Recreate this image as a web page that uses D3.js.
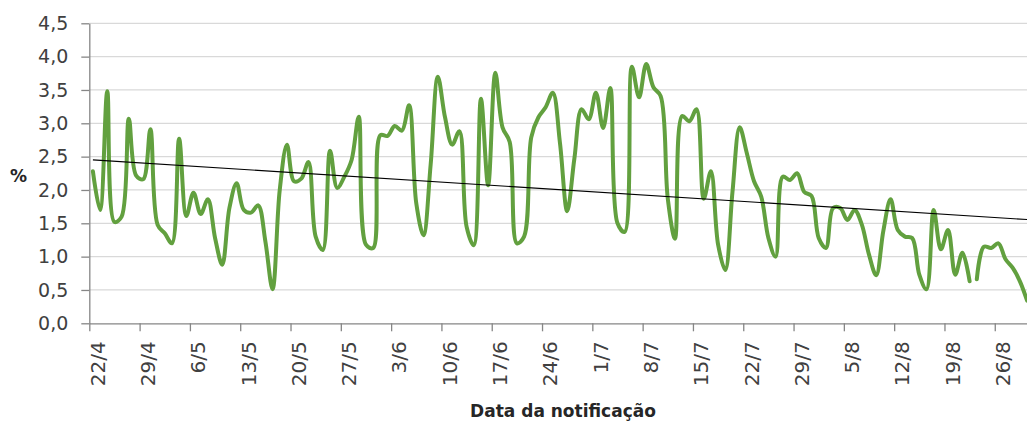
<!DOCTYPE html>
<html>
<head>
<meta charset="utf-8">
<script src="https://cdn.jsdelivr.net/npm/d3@7"></script>
<style>
  body { margin: 0; background: #fff; }
  svg { display: block; }
  .tick-label { font-family: "DejaVu Sans", sans-serif; fill: #404040; }
  .axis-title { font-family: "DejaVu Sans", sans-serif; font-weight: bold; fill: #262626; }
</style>
</head>
<body>
<svg id="chart" width="1027" height="421"></svg>
<script>
// first notification date, one value per day after it
var startDate = "2020-04-22";
// % per day
var values = [
  2.28, 1.70, 3.48, 1.52, 1.60, 3.07, 2.22, 2.16, 2.91, 1.48,
  1.35, 1.20, 2.77, 1.61, 1.96, 1.64, 1.86, 1.28, 0.88, 1.73,
  2.10, 1.70, 1.66, 1.77, 1.23, 0.51, 2.00, 2.68, 2.13, 2.17,
  2.42, 1.30, 1.10, 2.59, 2.03, 2.20, 2.45, 3.10, 1.18, 1.13,
  2.82, 2.81, 2.96, 2.89, 3.27, 1.80, 1.32, 2.38, 3.70, 3.09,
  2.68, 2.88, 1.45, 1.17, 3.37, 2.07, 3.76, 2.94, 2.72, 1.20,
  1.30, 2.79, 3.09, 3.24, 3.46, 2.70, 1.68, 2.47, 3.21, 3.06,
  3.46, 2.93, 3.53, 1.50, 1.37, 3.85, 3.39, 3.89, 3.54, 3.41,
  1.87, 1.27, 3.11, 3.03, 3.21, 1.87, 2.28, 1.18, 0.80, 1.97,
  2.94, 2.55, 2.13, 1.90, 1.28, 1.00, 2.20, 2.15, 2.25, 1.97,
  1.91, 1.28, 1.13, 1.73, 1.73, 1.55, 1.70, 1.48, 1.03, 0.72,
  1.39, 1.86, 1.40, 1.30, 1.28, 0.73, 0.51, 1.70, 1.11, 1.40,
  0.73, 1.06, 0.63, 0.66, 1.15, 1.13, 1.20, 0.96, 0.83, 0.63,
  0.34
];
// the line is interrupted right after this day
var breakAfter = "22/8";
var yTicks = [0, 0.5, 1, 1.5, 2, 2.5, 3, 3.5, 4, 4.5];
var tickEvery = 7; // days between x labels

var fmtDay = d3.timeFormat("%-d/%-m");
var start = d3.timeParse("%Y-%m-%d")(startDate);
var days = values.map(function(v, i){ return d3.timeDay.offset(start, i); });
var series = values.map(function(v, i){ return {date: days[i], value: v, idx: i}; });

var plotL = 89.3, plotR = 1030.7, plotT = 23.3, plotB = 323.3;

var svg = d3.select("#chart");

var x = d3.scaleTime()
  .domain([start, d3.timeDay.offset(start, values.length)])
  .range([plotL, plotR]);
var y = d3.scaleLinear().domain([0, 4.5]).range([plotB, plotT]);

// point sits in the middle of its day
var px = function(d){ return x(d3.timeHour.offset(d.date, 12)); };

//gridlines
svg.append("g").selectAll("line")
  .data(yTicks.filter(function(t){ return t > 0; }))
  .enter()
  .append("line")
  .attr("x1", plotL).attr("x2", plotR)
  .attr("y1", function(d){ return y(d); })
  .attr("y2", function(d){ return y(d); })
  .attr("stroke", "#d9d9d9")
  .attr("stroke-width", 1.3);

//y axis
var yAxis = svg.append("g")
  .attr("transform", "translate(" + plotL + ",0)")
  .call(d3.axisLeft(y)
    .tickValues(yTicks)
    .tickSize(8)
    .tickSizeOuter(0)
    .tickPadding(13)
    .tickFormat(function(d){ return d3.format(".1f")(d).replace(".", ","); }));
yAxis.select(".domain").attr("stroke", "#868686").attr("stroke-width", 1.3);
yAxis.selectAll(".tick line").attr("stroke", "#868686").attr("stroke-width", 1.3);
yAxis.selectAll(".tick text")
  .attr("class", "tick-label")
  .style("font-size", "19px");

//x axis
var xTickDates = d3.range(0, values.length, tickEvery).map(function(i){ return days[i]; });
var xAxis = svg.append("g")
  .attr("transform", "translate(0," + plotB + ")")
  .call(d3.axisBottom(x)
    .tickValues(xTickDates)
    .tickSize(8)
    .tickSizeOuter(0)
    .tickFormat(fmtDay));
xAxis.select(".domain").attr("stroke", "#868686").attr("stroke-width", 1.3);
xAxis.selectAll(".tick line").attr("stroke", "#868686").attr("stroke-width", 1.3);
xAxis.selectAll(".tick text")
  .attr("class", "tick-label")
  .style("font-size", "20px")
  .attr("text-anchor", "end")
  .attr("transform", "rotate(-90)")
  .attr("x", -18)
  .attr("y", 14.8)
  .attr("dy", 0);

//series, split where the data breaks
var cut = series.findIndex(function(d){ return fmtDay(d.date) === breakAfter; }) + 1;
var parts = [series.slice(0, cut), series.slice(cut)];
var line = d3.line()
  .x(px)
  .y(function(d){ return y(d.value); })
  .curve(d3.curveCatmullRom.alpha(0.5));

svg.append("g").selectAll("path")
  .data(parts)
  .enter()
  .append("path")
  .attr("d", line)
  .attr("fill", "none")
  .attr("stroke", "#62a03f")
  .attr("stroke-width", 4)
  .attr("stroke-linejoin", "round")
  .attr("stroke-linecap", "round");

//linear trend (least squares over day index)
var mx = d3.mean(series, function(d){ return d.idx; });
var my = d3.mean(series, function(d){ return d.value; });
var slope = d3.sum(series, function(d){ return (d.idx - mx) * (d.value - my); }) /
            d3.sum(series, function(d){ return (d.idx - mx) * (d.idx - mx); });
var icpt = my - slope * mx;
var trend = [series[0], series[series.length - 1]].map(function(d){
  return {date: d.date, value: icpt + slope * d.idx};
});
svg.append("path")
  .datum(trend)
  .attr("d", d3.line().x(px).y(function(d){ return y(d.value); }))
  .attr("fill", "none")
  .attr("stroke", "#000")
  .attr("stroke-width", 1.1);

//titles
svg.append("text")
  .attr("class", "axis-title")
  .attr("x", 18.5).attr("y", 182)
  .attr("text-anchor", "middle")
  .style("font-size", "17px")
  .text("%");

svg.append("text")
  .attr("class", "axis-title")
  .attr("x", 563).attr("y", 417)
  .attr("text-anchor", "middle")
  .style("font-size", "17px")
  .text("Data da notificação");
</script>
</body>
</html>
